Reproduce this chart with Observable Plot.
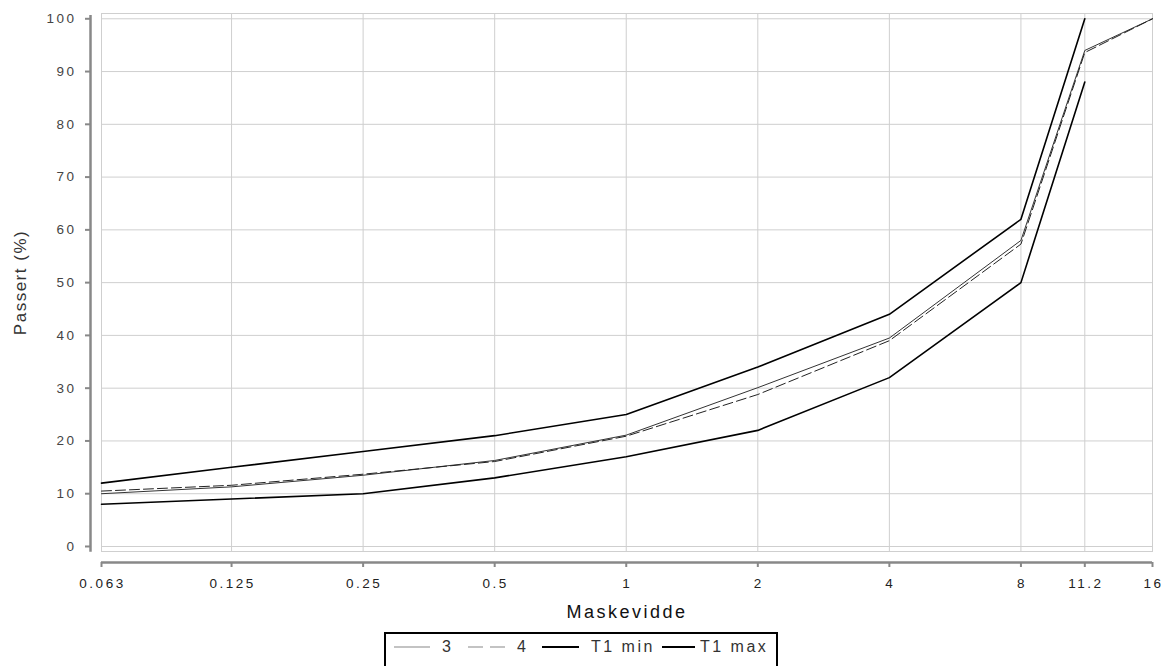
<!DOCTYPE html>
<html>
<head>
<meta charset="utf-8">
<script src="https://cdn.jsdelivr.net/npm/d3@7"></script>
<script src="https://cdn.jsdelivr.net/npm/@observablehq/plot@0.6"></script>
<style>
  html, body { margin: 0; padding: 0; background: #fff; }
  body { width: 1172px; height: 666px; position: relative; overflow: hidden; font-family: "Liberation Sans", Arial, sans-serif; }
  #chart svg text { letter-spacing: 2.5px; }
  #chart svg g.ylabel text { letter-spacing: 1.5px; }
  #legend {
    position: absolute; left: 384px; top: 632px; width: 390px; height: 40px;
    border: 2px solid #000; box-sizing: content-box;
    font-family: "Liberation Sans", Arial, sans-serif; font-size: 16px; letter-spacing: 2.5px; color: #333;
  }
  #legend svg { position: absolute; top: 3px; display: block; }
  #legend span { position: absolute; top: 3px; line-height: 20px; white-space: nowrap; }
</style>
</head>
<body>
<div id="chart"></div>
<div id="legend"></div>
<script>
// Sieve sizes (mm) and percent passing
const sizes   = [0.063, 0.125, 0.25, 0.5, 1, 2, 4, 8, 11.2, 16];
const xTicks  = [0.063, 0.125, 0.25, 0.5, 1, 2, 4, 8, 11.2, 16];
const yTicks  = [0, 10, 20, 30, 40, 50, 60, 70, 80, 90, 100];
const series3 = [10.0, 11.3, 13.5, 16.3, 21.1, 30.1, 39.5, 58.0, 94.0, 100];
const series4 = [10.5, 11.6, 13.7, 16.1, 20.9, 28.8, 39.0, 57.3, 93.6, 100];
const t1min   = [8, 9, 10, 13, 17, 22, 32, 50, 88, null];
const t1max   = [12, 15, 18, 21, 25, 34, 44, 62, 100, null];
const seriesNames = ["3", "4", "T1 min", "T1 max"];

function rows(name, vals) {
  return sizes.map((s, i) => ({name, size: s, value: vals[i]})).filter(d => d.value != null);
}
const d3rows = rows("3", series3);
const d4rows = rows("4", series4);
const dmin = rows("T1 min", t1min);
const dmax = rows("T1 max", t1max);

const yMin = -0.95, yMax = 101;
const axisColor = "#888";

const chart = Plot.plot({
  width: 1172,
  height: 625,
  marginLeft: 101,
  marginRight: 20,
  marginTop: 13,
  marginBottom: 74,
  style: {fontFamily: "'Liberation Sans', Arial, sans-serif", fontSize: "13.5px", color: "#333", background: "#fff"},
  x: {type: "log", domain: [0.063, 16], axis: null},
  y: {domain: [yMin, yMax], axis: null},
  marks: [
    Plot.gridX(xTicks, {stroke: "#cfcfcf", strokeOpacity: 1}),
    Plot.gridY(yTicks, {stroke: "#cfcfcf", strokeOpacity: 1}),
    Plot.frame({stroke: "#cfcfcf"}),
    // offset axis lines
    Plot.ruleX([0.063], {y1: yMin - 0.15, y2: 100.6, dx: -11, stroke: axisColor, strokeWidth: 2.5}),
    Plot.ruleY([yMin], {x1: 0.063, x2: 16, dy: 11, stroke: axisColor, strokeWidth: 2.5}),
    Plot.axisY({ticks: yTicks, tickSize: 5, tickPadding: 9, dx: -11, label: null, stroke: axisColor, strokeWidth: 2, fontSize: 13.5, fill: "#444"}),
    Plot.ruleX(xTicks, {x: d => d, y1: yMin, y2: yMin - 0.95, dy: 11, stroke: axisColor, strokeWidth: 2}),
    Plot.text(xTicks, {x: d => d, y: yMin, dy: 32, dx: 1, text: d => String(d), lineAnchor: "middle", textAnchor: "middle", fontSize: 13.5, fill: "#222"}),
    Plot.text(["Passert (%)"], {frameAnchor: "left", textAnchor: "middle", rotate: -90, dx: -81, fontSize: 17, fill: "#333", className: "ylabel"}),
    Plot.text(["Maskevidde"], {frameAnchor: "bottom", dy: 66, fontSize: 18, fill: "#111"}),
    // data lines
    Plot.line(dmin, {x: "size", y: "value", stroke: "#000", strokeWidth: 1.6}),
    Plot.line(dmax, {x: "size", y: "value", stroke: "#000", strokeWidth: 1.6}),
    Plot.line(d3rows, {x: "size", y: "value", stroke: "#333", strokeWidth: 1}),
    Plot.line(d4rows, {x: "size", y: "value", stroke: "#222", strokeWidth: 1, strokeDasharray: "10,4"})
  ]
});
document.getElementById("chart").appendChild(chart);

// Legend (positions relative to the inner box)
const legendItems = [
  {name: seriesNames[0], line: [8, 44],    text: 56,  color: "#888", width: 1.2, dash: null},
  {name: seriesNames[1], line: [82, 119],  text: 131, color: "#888", width: 1.2, dash: "15,7"},
  {name: seriesNames[2], line: [156, 193], text: 205, color: "#000", width: 2,   dash: null},
  {name: seriesNames[3], line: [276, 309], text: 314, color: "#000", width: 2,   dash: null}
];
const legend = document.getElementById("legend");
for (const it of legendItems) {
  const w = it.line[1] - it.line[0];
  const sv = document.createElementNS("http://www.w3.org/2000/svg", "svg");
  sv.setAttribute("width", w); sv.setAttribute("height", 20);
  sv.style.left = it.line[0] + "px";
  sv.innerHTML = `<line x1="0" x2="${w}" y1="10" y2="10" stroke="${it.color}" stroke-width="${it.width}" ${it.dash ? `stroke-dasharray="${it.dash}"` : ""}/>`;
  legend.appendChild(sv);
  const sp = document.createElement("span");
  sp.textContent = it.name;
  sp.style.left = it.text + "px";
  legend.appendChild(sp);
}
</script>
</body>
</html>
